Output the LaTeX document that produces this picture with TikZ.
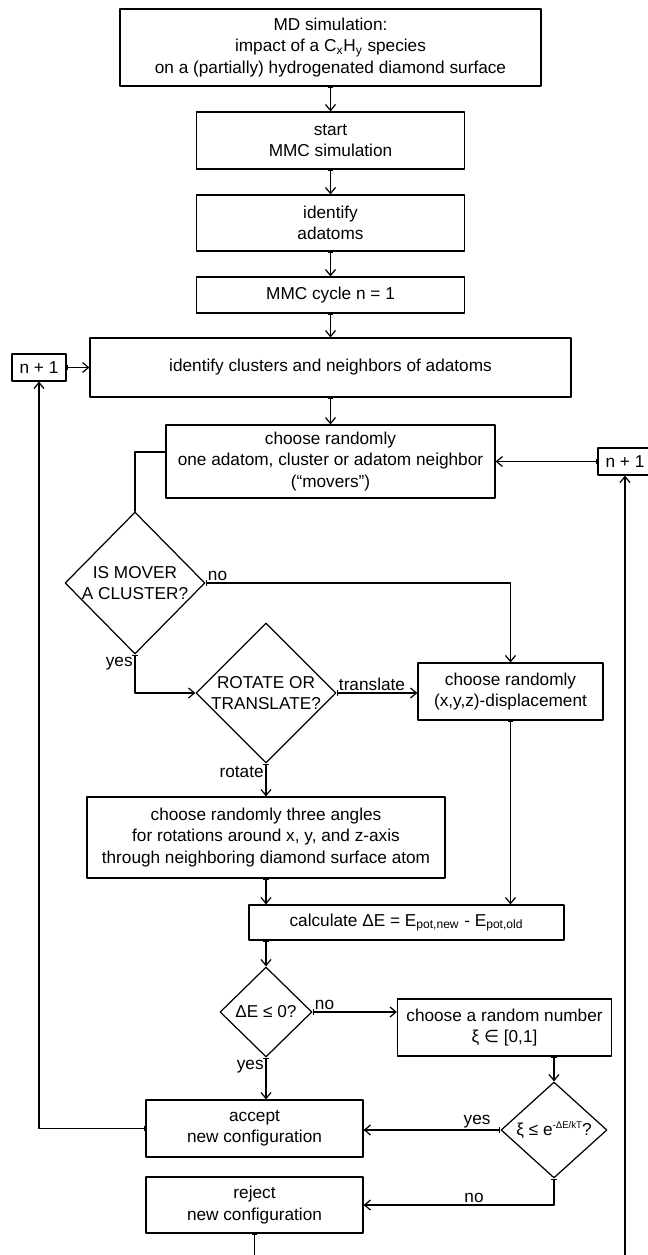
\documentclass[tikz,border=0pt]{standalone}
\usepackage{fontspec}
\setmainfont{Liberation Sans}
\newfontfamily\dejavu{DejaVu Sans}
\usetikzlibrary{arrows.meta,shapes.geometric}

\begin{document}
\begin{tikzpicture}[line cap=round,line join=round,x=0.02cm,y=-0.02cm,
  every node/.style={font=\fontsize{9.8}{12}\selectfont},
  box/.style={draw,line width=0.7pt,rectangle,align=center,inner sep=0pt},
  decide/.style={draw,line width=0.7pt,diamond,inner sep=0pt},
  flow/.style={line width=0.7pt,{Bar[width=3pt]}-{Straight Barb[length=3.4pt,width=5.7pt]}},
  link/.style={line width=0.7pt},
  tag/.style={inner sep=1pt}]
\useasboundingbox (0,0) rectangle (648,1255);
\clip (0,0) rectangle (648,1255);

\node[box,minimum width=8.42cm,minimum height=1.54cm] (md) at (330.5,47.5) {MD simulation:\\impact of a C\textsubscript{x}H\textsubscript{y} species\\on a (partially) hydrogenated diamond surface};
\node[box,minimum width=5.36cm,minimum height=1.14cm] (start) at (330.5,140.5) {start\\MMC simulation};
\node[box,minimum width=5.36cm,minimum height=1.12cm] (adatoms) at (330.5,223) {identify\\adatoms};
\node[box,minimum width=5.36cm,minimum height=0.72cm] (cycle) at (330.5,295) {MMC cycle n = 1};
\node[box,minimum width=9.62cm,minimum height=1.18cm] (clusters) at (330.5,367.5) {identify clusters and neighbors of adatoms};
\node[box,minimum width=1.08cm,minimum height=0.54cm] (nleft) at (39,367.5) {n + 1};
\node[box,minimum width=6.58cm,minimum height=1.46cm] (choose) at (330.5,461.5) {choose randomly\\one adatom, cluster or adatom neighbor\\(“movers”)};
\node[box,minimum width=1.08cm,minimum height=0.54cm] (nright) at (625,461.5) {n + 1};
\node[decide,minimum width=2.8cm,minimum height=2.84cm,label={[align=center]center:IS MOVER\\A CLUSTER?}] (mover) at (135,583) {};
\node[decide,minimum width=2.8cm,minimum height=2.8cm,label={[align=center]center:ROTATE OR\\TRANSLATE?}] (rot) at (266,693) {};
\node[box,minimum width=3.7cm,minimum height=1.14cm] (disp) at (510.5,691.5) {choose randomly\\(x,y,z)-displacement};
\node[box,minimum width=7.16cm,minimum height=1.62cm] (angles) at (266,837.5) {choose randomly three angles\\for rotations around x, y, and z-axis\\through neighboring diamond surface atom};
\node[box,minimum width=6.3cm,minimum height=0.7cm] (calc) at (406.5,922.5) {calculate ΔE = E\textsubscript{pot,new} - E\textsubscript{pot,old}};
\node[decide,minimum width=1.84cm,minimum height=1.8cm,label={center:ΔE ≤ 0?}] (dE) at (266,1012) {};
\node[box,minimum width=4.28cm,minimum height=1.14cm] (rand) at (504.5,1027.5) {choose a random number\\ξ {\dejavu ∈} [0,1]};
\node[decide,minimum width=2.12cm,minimum height=1.92cm,label={center:ξ ≤ e\raisebox{0.8ex}{\fontsize{5.5}{6}\selectfont -ΔE/kT}?}] (xi) at (554,1130) {};
\node[box,minimum width=4.34cm,minimum height=1.14cm] (accept) at (254.5,1128.5) {accept\\new configuration};
\node[box,minimum width=4.34cm,minimum height=1.12cm] (reject) at (254.5,1205) {reject\\new configuration};
\coordinate (loop) at (625,1275);

\draw[flow] (md) -- (start);
\draw[flow] (start) -- (adatoms);
\draw[flow] (adatoms) -- (cycle);
\draw[flow] (cycle) -- (clusters);
\draw[flow] (nleft) -- (clusters);
\draw[flow] (clusters) -- (choose);
\draw[flow] (nright) -- (choose);
\draw[link] ([yshift=0.19cm]choose.west) -| (mover.north);
\draw[flow] (mover.east) -| (disp.north) node[pos=0,tag,anchor=south west] {no};
\draw[flow] (mover.south) |- (rot.west) node[pos=0,tag,anchor=north east] {yes};
\draw[flow] (rot.east) -- (rot.east -| disp.west) node[pos=0,tag,anchor=south west] {translate};
\draw[flow] (rot.south) -- (angles.north) node[pos=0,tag,anchor=north east] {rotate};
\draw[flow] (disp.south) -- (disp.south |- calc.north);
\draw[flow] (angles.south) -- (angles.south |- calc.north);
\draw[flow] (calc.south -| dE.north) -- (dE.north);
\draw[flow] (dE.east) -- (dE.east -| rand.west) node[pos=0,tag,anchor=south west] {no};
\draw[flow] (rand.south -| xi.north) -- (xi.north);
\draw[flow] (dE.south) -- (dE.south |- accept.north) node[pos=0,tag,anchor=north east] {yes};
\draw[flow] (xi.west) -- (xi.west -| accept.east) node[pos=0,tag,anchor=south east,xshift=-0.15cm] {yes};
\draw[flow] (xi.south) |- (reject.east) node[pos=0.71,tag,anchor=south] {no};
\draw[flow] (accept.west) -| (nleft.south);
\draw[flow] (reject.south) |- (loop) -- (nright.south);
\end{tikzpicture}
\end{document}
